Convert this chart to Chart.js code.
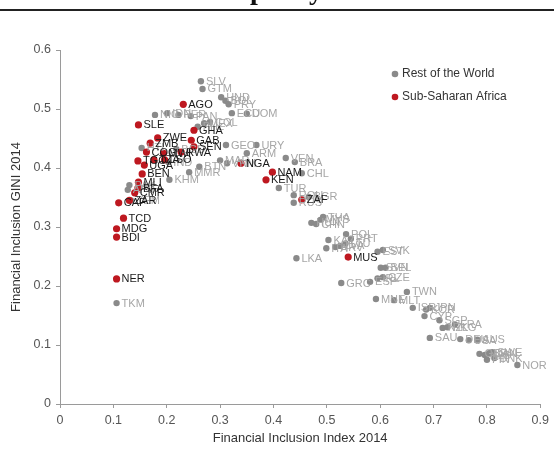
<!DOCTYPE html>
<html>
<head>
<meta charset="utf-8">
<script src="https://cdn.jsdelivr.net/npm/chart.js@4/dist/chart.umd.min.js"></script>
<style>
  body { margin: 0; background: #fff; }
  #wrap { position: relative; width: 554px; height: 452px; }
  #topTitle { position: absolute; left: 0; top: 0; width: 554px; height: 8px; overflow: hidden; }
  #topTitle span { position: absolute; left: 250px; top: -26px; font: bold 28px "Liberation Serif", serif; color: #111; white-space: nowrap; }
  #topRule { position: absolute; left: 0; top: 9px; width: 554px; height: 2px; background: #222; }
</style>
</head>
<body>
<div id="wrap">
  <canvas id="giniChart" width="554" height="452"></canvas>
  <div id="topTitle"><span>pacity</span></div>
  <div id="topRule"></div>
</div>
<script>
// axis ticks
const xTickLabels = ["0", "0.1", "0.2", "0.3", "0.4", "0.5", "0.6", "0.7", "0.8", "0.9"];
const yTickLabels = ["0", "0.1", "0.2", "0.3", "0.4", "0.5", "0.6"];

// Sub-Saharan Africa
const ssaCodes = ["AGO", "SLE", "ZWE", "GHA", "GAB", "SEN", "ZMB", "COG", "MWI", "RWA", "LSO", "TGO", "UGA", "TZA", "BEN", "MLI", "BFA", "CMR", "ZAR", "CAF", "TCD", "MDG", "BDI", "NER", "NGA", "NAM", "KEN", "ZAF", "MUS"];
const ssaIndex = [0.231, 0.147, 0.183, 0.251, 0.246, 0.251, 0.169, 0.162, 0.194, 0.227, 0.196, 0.146, 0.158, 0.176, 0.154, 0.147, 0.146, 0.140, 0.130, 0.110, 0.119, 0.106, 0.106, 0.106, 0.339, 0.398, 0.386, 0.453, 0.540];
const ssaGini = [0.508, 0.473, 0.451, 0.464, 0.447, 0.436, 0.442, 0.427, 0.425, 0.427, 0.414, 0.412, 0.405, 0.414, 0.390, 0.376, 0.366, 0.358, 0.345, 0.341, 0.315, 0.297, 0.283, 0.212, 0.408, 0.393, 0.380, 0.346, 0.249];

// Rest of the World
const rowCodes = ["SLV", "GTM", "HND", "BOL", "PRY", "ECU", "DOM", "NIC", "IDN", "PER", "PAN", "MEX", "COL", "PHL", "HTI", "BGD", "IND", "KHM", "MMR", "PAK", "AFG", "YEM", "GEO", "URY", "ARM", "BTN", "VNM", "MAR", "VEN", "BRA", "CHL", "TUR", "ROU", "BGR", "RUS", "HUN", "CHN", "MYS", "THA", "POL", "PRT", "KAZ", "ITA", "HRV", "LVA", "LTU", "LKA", "SVK", "EST", "SVN", "BEL", "CZE", "IRL", "GRC", "ESP", "MNE", "MLT", "TWN", "ISR", "KOR", "JPN", "CYP", "SGP", "NZL", "HKG", "FRA", "SAU", "DEU", "USA", "AUS", "GBR", "NLD", "CAN", "SWE", "DNK", "FIN", "NOR", "TKM"];
const rowIndex = [0.264, 0.267, 0.302, 0.310, 0.316, 0.322, 0.350, 0.178, 0.201, 0.222, 0.245, 0.270, 0.281, 0.258, 0.153, 0.218, 0.203, 0.205, 0.242, 0.130, 0.127, 0.133, 0.311, 0.368, 0.350, 0.261, 0.313, 0.300, 0.423, 0.440, 0.453, 0.410, 0.438, 0.466, 0.438, 0.471, 0.480, 0.488, 0.493, 0.536, 0.545, 0.503, 0.499, 0.516, 0.525, 0.535, 0.443, 0.605, 0.595, 0.601, 0.610, 0.605, 0.595, 0.527, 0.581, 0.592, 0.626, 0.650, 0.661, 0.686, 0.693, 0.683, 0.711, 0.717, 0.726, 0.740, 0.693, 0.750, 0.766, 0.782, 0.786, 0.796, 0.804, 0.810, 0.814, 0.800, 0.857, 0.106];
const rowGini = [0.547, 0.534, 0.520, 0.514, 0.508, 0.493, 0.492, 0.490, 0.493, 0.490, 0.488, 0.476, 0.478, 0.470, 0.434, 0.432, 0.410, 0.380, 0.393, 0.371, 0.363, 0.345, 0.439, 0.439, 0.425, 0.402, 0.408, 0.413, 0.417, 0.410, 0.391, 0.366, 0.354, 0.351, 0.341, 0.307, 0.305, 0.312, 0.317, 0.288, 0.280, 0.278, 0.264, 0.266, 0.268, 0.272, 0.247, 0.261, 0.258, 0.231, 0.231, 0.215, 0.213, 0.205, 0.207, 0.178, 0.176, 0.190, 0.163, 0.160, 0.163, 0.149, 0.142, 0.129, 0.130, 0.135, 0.112, 0.110, 0.108, 0.109, 0.085, 0.083, 0.086, 0.088, 0.078, 0.075, 0.066, 0.171];

const seriesNames = ["Rest of the World", "Sub-Saharan Africa"];
const seriesColors = ["#8a8a8a", "#be1820"];
const labelColors = ["#a6a6a6", "#1a1a1a"];

function toPoints(xs, ys, codes) {
    return xs.map((x, i) => ({ x: x, y: ys[i], code: codes[i] }));
}

// country codes next to each dot
const codeLabels = {
    id: "codeLabels",
    afterDatasetsDraw(chart) {
        const ctx = chart.ctx;
        ctx.save();
        ctx.font = "11px 'Liberation Sans Narrow', 'Arial Narrow', 'Liberation Sans', sans-serif";
        ctx.textBaseline = "middle";
        ctx.textAlign = "left";
        chart.data.datasets.forEach((ds, di) => {
            const meta = chart.getDatasetMeta(di);
            ctx.fillStyle = labelColors[di];
            meta.data.forEach((pt, i) => {
                ctx.fillText(ds.data[i].code, pt.x + 5, pt.y + 0.5);
            });
        });
        ctx.restore();
    }
};

// legend in the top right corner of the plot
const cornerLegend = {
    id: "cornerLegend",
    afterDraw(chart) {
        const ctx = chart.ctx;
        ctx.save();
        ctx.font = "12px 'Liberation Sans Narrow', 'Arial Narrow', 'Liberation Sans', sans-serif";
        ctx.textBaseline = "middle";
        seriesNames.forEach((name, i) => {
            const y = 74 + i * 23;
            ctx.fillStyle = seriesColors[i];
            ctx.beginPath();
            ctx.arc(395, y, 3.3, 0, Math.PI * 2);
            ctx.fill();
            ctx.fillStyle = "#333";
            ctx.fillText(name, 402, y);
        });
        ctx.restore();
    }
};

const giniChart = new Chart(document.getElementById("giniChart").getContext("2d"), {
    type: "scatter",
    data: {
        datasets: [
            {
                label: seriesNames[0],
                data: toPoints(rowIndex, rowGini, rowCodes),
                backgroundColor: seriesColors[0],
                borderWidth: 0,
                pointRadius: 3.2,
                order: 2
            },
            {
                label: seriesNames[1],
                data: toPoints(ssaIndex, ssaGini, ssaCodes),
                backgroundColor: seriesColors[1],
                borderWidth: 0,
                pointRadius: 3.6,
                order: 1
            }
        ]
    },
    options: {
        responsive: false,
        animation: false,
        layout: { padding: { top: 50, right: 11, left: 0, bottom: 0 } },
        plugins: {
            legend: { display: false },
            tooltip: { enabled: false }
        },
        scales: {
            x: {
                min: 0,
                max: 0.9,
                afterFit: function (scale) { scale.height = 48; },
                grid: { drawOnChartArea: false, drawTicks: true, tickLength: 4, color: "#9a9a9a" },
                border: { display: true, color: "#9a9a9a" },
                ticks: {
                    stepSize: 0.1,
                    padding: 5,
                    color: "#555",
                    font: { family: "'Liberation Sans Narrow', 'Arial Narrow', 'Liberation Sans', sans-serif", size: 12.5 },
                    callback: function (value, index) { return xTickLabels[index]; }
                },
                title: {
                    display: true,
                    text: "Financial Inclusion Index 2014",
                    color: "#333",
                    padding: { top: 2, bottom: 6 },
                    font: { family: "'Liberation Sans', sans-serif", size: 13 }
                }
            },
            y: {
                min: 0,
                max: 0.6,
                afterFit: function (scale) { scale.width = 60; },
                grid: { drawOnChartArea: false, drawTicks: true, tickLength: 4, color: "#9a9a9a" },
                border: { display: true, color: "#9a9a9a" },
                ticks: {
                    stepSize: 0.1,
                    padding: 5,
                    color: "#555",
                    font: { family: "'Liberation Sans Narrow', 'Arial Narrow', 'Liberation Sans', sans-serif", size: 12.5 },
                    callback: function (value, index) { return yTickLabels[index]; }
                },
                title: {
                    display: true,
                    text: "Financial Inclusion GINI 2014",
                    color: "#333",
                    padding: { top: 9, bottom: 2 },
                    font: { family: "'Liberation Sans', sans-serif", size: 13 }
                }
            }
        }
    },
    plugins: [codeLabels, cornerLegend]
});
</script>
</body>
</html>
